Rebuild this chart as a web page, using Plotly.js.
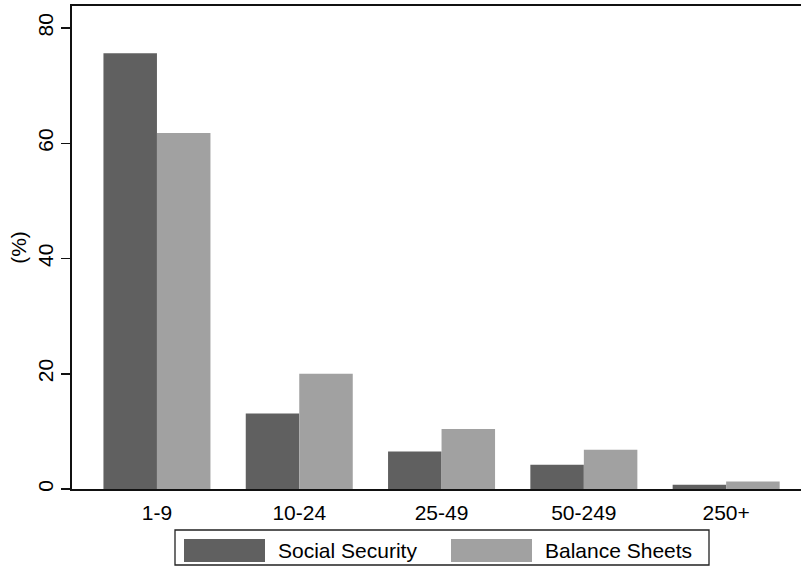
<!DOCTYPE html>
<html>
<head>
<meta charset="utf-8">
<script src="https://cdn.plot.ly/plotly-3.0.1.min.js"></script>
<style>html,body{margin:0;padding:0;background:#fff;}#chart{width:801px;height:567px;}</style>
</head>
<body>
<div id="chart"></div>
<script>
// ---- data ----
const categories = ["1-9", "10-24", "25-49", "50-249", "250+"];
const socialSecurity = [75.6, 13.1, 6.5, 4.2, 0.75];
const balanceSheets = [61.8, 20.0, 10.4, 6.8, 1.3];
const seriesNames = ["Social Security", "Balance Sheets"];
const yTickVals = [0, 20, 40, 60, 80];
const yTickText = ["0", "20", "40", "60", "80"];

// ---- layout helpers (pixel -> paper) ----
const W = 801, H = 567;
const M = {l: 72, r: 0, t: 6, b: 78};
const pw = W - M.l - M.r, ph = H - M.t - M.b;
const px = x => (x - M.l) / pw;
const py = y => (H - M.b - y) / ph;

const darkCol = "#606060", lightCol = "#a1a1a1";
const font = {family: "Liberation Sans, Arial, sans-serif", size: 21, color: "#000"};

const traces = [
  {type: "bar", x: categories, y: socialSecurity, name: seriesNames[0],
   marker: {color: darkCol, line: {width: 0}}, hoverinfo: "x+y"},
  {type: "bar", x: categories, y: balanceSheets, name: seriesNames[1],
   marker: {color: lightCol, line: {width: 0}}, hoverinfo: "x+y"}
];

const layout = {
  width: W, height: H,
  margin: M,
  paper_bgcolor: "#fff", plot_bgcolor: "#fff",
  font: font,
  showlegend: false,
  barmode: "group", bargap: 0.248, bargroupgap: 0,
  xaxis: {
    type: "category", range: [-0.597, 4.526],
    showline: true, linecolor: "#111", linewidth: 1.6, mirror: true,
    ticks: "", showgrid: false, zeroline: false,
    ticklabelstandoff: 4,
    tickfont: font, fixedrange: true
  },
  yaxis: {
    range: [0, 83.82],
    tickvals: yTickVals, ticktext: yTickText,
    ticks: "outside", ticklen: 9, tickwidth: 1.5, tickcolor: "#111",
    tickangle: -90,
    showline: true, linecolor: "#111", linewidth: 1.6,
    showgrid: false, zeroline: false,
    tickfont: font,
    title: {text: "(%)", font: font, standoff: 1},
    fixedrange: true
  },
  shapes: [
    {type: "rect", xref: "paper", yref: "paper",
     x0: px(175), x1: px(709), y0: py(565), y1: py(530),
     line: {color: "#222", width: 1.3}, fillcolor: "#fff", layer: "above"},
    {type: "rect", xref: "paper", yref: "paper",
     x0: px(184), x1: px(265), y0: py(562), y1: py(539),
     line: {width: 0}, fillcolor: darkCol},
    {type: "rect", xref: "paper", yref: "paper",
     x0: px(451), x1: px(532), y0: py(562), y1: py(539),
     line: {width: 0}, fillcolor: lightCol}
  ],
  annotations: [
    {xref: "paper", yref: "paper", x: px(276), y: py(550.5), xanchor: "left", yanchor: "middle",
     text: seriesNames[0], showarrow: false, font: font},
    {xref: "paper", yref: "paper", x: px(543), y: py(550.5), xanchor: "left", yanchor: "middle",
     text: seriesNames[1], showarrow: false, font: font}
  ]
};

Plotly.newPlot("chart", traces, layout, {displayModeBar: false, staticPlot: true});
</script>
</body>
</html>
